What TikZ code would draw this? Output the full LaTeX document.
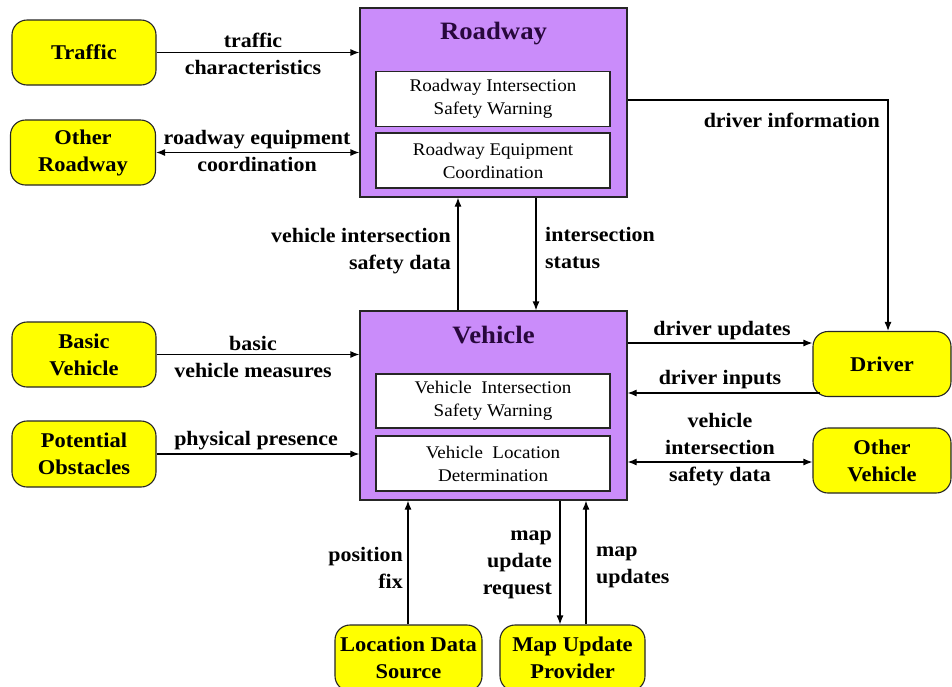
\documentclass[tikz,border=0pt]{standalone}
\usepackage{fontspec}
\setmainfont[FakeStretch=1.07]{Liberation Serif}
\usetikzlibrary{arrows.meta,calc}
\definecolor{boxpurple}{RGB}{202,140,250}
\definecolor{ylw}{RGB}{255,255,0}
\definecolor{titlecol}{RGB}{40,8,60}
\tikzset{
  ext/.style={draw=black!85, fill=ylw, rounded corners=15pt, line width=1.1pt,
    align=center, inner sep=0pt, font=\bfseries\fontsize{21}{27}\selectfont},
  sysbox/.style={draw=black!85, fill=boxpurple, line width=1.2pt, minimum width=267pt, minimum height=189pt, inner sep=0pt},
  subbox/.style={draw=black!85, fill=white, line width=1.1pt, minimum width=234pt, minimum height=55pt, inner sep=0pt,
    align=center, font=\fontsize{17.8}{23}\selectfont},
  ttl/.style={text=titlecol, font=\bfseries\fontsize{25}{30}\selectfont},
  lbl/.style={font=\bfseries\fontsize{20.5}{27}\selectfont, inner sep=0pt},
  flow/.style={line width=1.2pt, -{Latex[length=9pt,width=7pt]}},
  bflow/.style={line width=1.2pt, {Latex[length=9pt,width=7pt]}-{Latex[length=9pt,width=7pt]}}
}
\begin{document}
\begin{tikzpicture}[x=1pt,y=-1pt]
\useasboundingbox (0,0) rectangle (952,686);
\clip (0,0) rectangle (952,686);
\fill[white] (0,0) rectangle (952,686);

% system boxes
\node[sysbox] (road) at (493.5,102.5) {};
\node[ttl] (roadt) at (493.5,34) {Roadway};
\node[subbox] (ris) at (493,99) {Roadway Intersection\\Safety Warning};
\node[subbox] (rec) at (493,160.5) {Roadway Equipment\\Coordination};

\node[sysbox] (veh) at (493.5,405.5) {};
\node[ttl] (veht) at (493.5,335) {Vehicle};
\node[subbox, minimum height=54pt] (vis) at (493,401) {Vehicle\ \ Intersection\\Safety Warning};
\node[subbox] (vld) at (493,463.5) {Vehicle\ \ Location\\Determination};

% external nodes
\node[ext, minimum width=144pt, minimum height=65pt] (traffic) at (84,52.5) {Traffic};
\node[ext, minimum width=145pt, minimum height=65pt] (otherroad) at (83,152.5) {Other\\Roadway};
\node[ext, minimum width=144pt, minimum height=65pt] (basic) at (84,354.5) {Basic\\Vehicle};
\node[ext, minimum width=144pt, minimum height=66pt] (obst) at (84,454) {Potential\\Obstacles};
\node[ext, minimum width=138pt, minimum height=65pt] (driver) at (882,364) {Driver};
\node[ext, minimum width=138pt, minimum height=65pt] (otherveh) at (882,460.5) {Other\\Vehicle};
\node[ext, minimum width=147pt, minimum height=66pt] (locsrc) at (408.5,658) {Location Data\\Source};
\node[ext, minimum width=145pt, minimum height=66pt] (mapprov) at (572.5,658) {Map Update\\Provider};

% helper coordinates
\coordinate (ydu) at (0,343);
\coordinate (ydi) at (0,393);
\coordinate (yov) at (0,462);
\coordinate (corner) at (888,100);
\coordinate (xvisd) at (458,0);
\coordinate (xis) at (536,0);
\coordinate (xpos) at (408,0);
\coordinate (xmur) at (560,0);
\coordinate (xmu) at (586,0);

% connectors
\draw[flow] (traffic) -- (traffic -| road.west);
\draw[bflow] (otherroad) -- (otherroad -| road.west);
\draw[flow] (basic) -- (basic -| veh.west);
\draw[flow] (obst) -- (obst -| veh.west);
\draw[flow] (road.east |- corner) -- (corner) -- (driver.north -| corner);
\draw[flow] (veh.north -| xvisd) -- (road.south -| xvisd);
\draw[flow] (road.south -| xis) -- (veh.north -| xis);
\draw[flow] (veh.east |- ydu) -- (driver.west |- ydu);
\draw[flow] ([xshift=8pt]driver.west |- ydi) -- (veh.east |- ydi);
\draw[bflow] (veh.east |- yov) -- (otherveh.west |- yov);
\draw[flow] (locsrc.north -| xpos) -- (veh.south -| xpos);
\draw[flow] (veh.south -| xmur) -- (mapprov.north -| xmur);
\draw[flow] (mapprov.north -| xmu) -- (veh.south -| xmu);

% labels
\node[lbl, align=center] (l1) at (253,54) {traffic\\characteristics};
\node[lbl, align=center] (l2) at (257,151) {roadway equipment\\coordination};
\node[lbl, align=right, anchor=east] (l3) at (451,251) {vehicle intersection\\safety data};
\node[lbl, align=left, anchor=west] (l4) at (545,248) {intersection\\status};
\node[lbl, anchor=east] (l5) at (880,120) {driver information};
\node[lbl, align=center] (l6) at (253,357) {basic\\vehicle measures};
\node[lbl] (l7) at (256,441) {physical presence};
\node[lbl] (l8) at (722,331) {driver updates};
\node[lbl] (l9) at (720,380) {driver inputs};
\node[lbl, align=center] (l10) at (720,450) {vehicle\\intersection\\safety data};
\node[lbl, align=right, anchor=east] (l11) at (403,568) {position\\fix};
\node[lbl, align=right, anchor=east] (l12) at (552,565) {map\\update\\request};
\node[lbl, align=left, anchor=west] (l13) at (596,567) {map\\updates};
\end{tikzpicture}
\end{document}
